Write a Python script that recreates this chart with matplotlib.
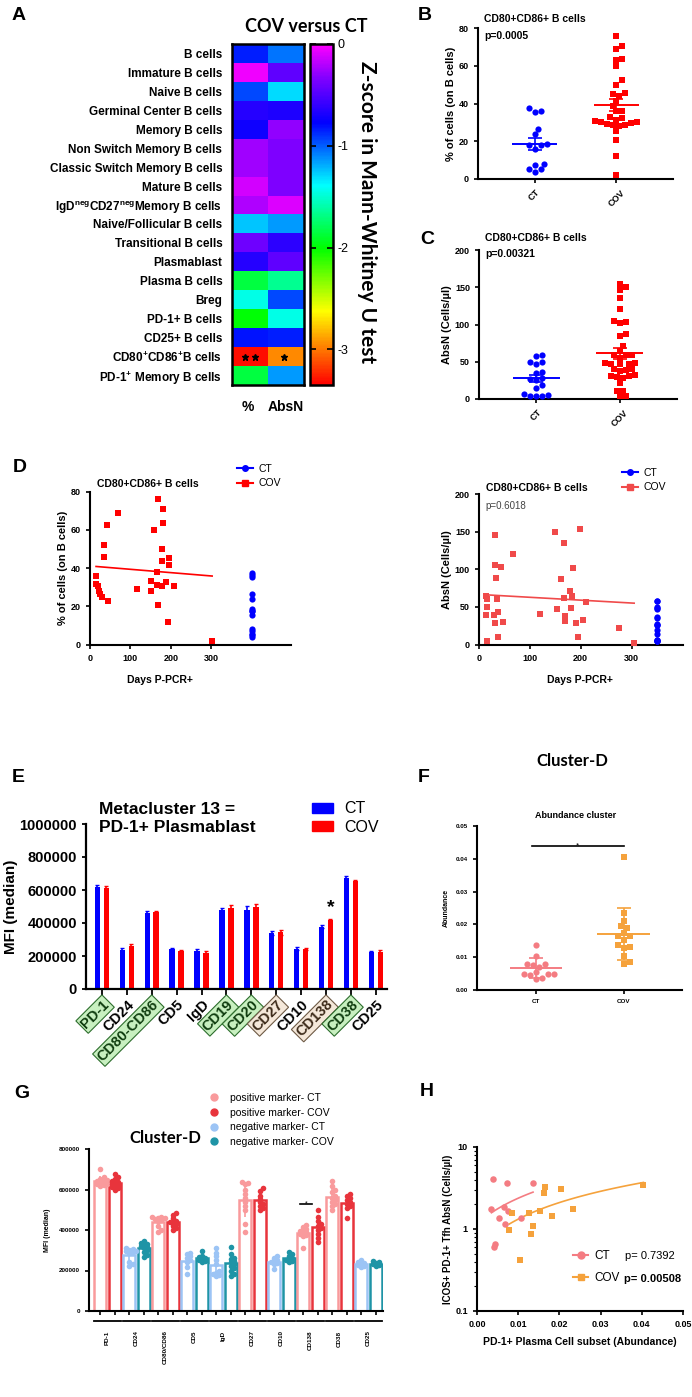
import numpy as np
import matplotlib
matplotlib.use('Agg')
import matplotlib.pyplot as plt
from matplotlib.colors import LinearSegmentedColormap
from matplotlib.lines import Line2D
from matplotlib.patches import Patch

plt.rcParams['font.family'] = ['Liberation Sans', 'DejaVu Sans']
plt.rcParams['mathtext.default'] = 'regular'

# ---------------- data ----------------
# A: z-scores (%, AbsN)
heat_rows = ['B cells', 'Immature B cells', 'Naive B cells', 'Germinal Center B cells',
             'Memory B cells', 'Non Switch Memory B cells', 'Classic Switch Memory B cells',
             'Mature B cells', 'IgD$^{neg}$CD27$^{neg}$Memory B cells', 'Naive/Follicular B cells',
             'Transitional B cells', 'Plasmablast', 'Plasma B cells', 'Breg', 'PD-1+ B cells',
             'CD25+ B cells', 'CD80$^{+}$CD86$^{+}$B cells', 'PD-1$^{+}$ Memory B cells']
z_pct = [-0.85, -0.05, -0.95, -0.65, -0.72, -0.25, -0.25, -0.12, -0.22, -1.25,
         -0.4, -0.65, -1.85, -1.45, -2.0, -0.82, -3.3, -1.85]
z_absn = [-1.05, -0.45, -1.3, -0.68, -0.3, -0.35, -0.35, -0.35, -0.1, -1.15,
          -0.62, -0.45, -1.65, -0.95, -1.45, -0.85, -2.95, -1.15]

# B: % of B cells
ct_pct = [37.6, 36.2, 35.3, 26.7, 24.0, 18.7, 17.8, 17.8, 15.7, 8.1, 7.2, 5.5, 5.1, 3.7]
cov_pct = [75.9, 70.6, 68.9, 63.6, 62.9, 59.7, 52.3, 50.0, 45.6, 45.2, 43.8, 41.1, 38.5, 36.2,
           35.9, 32.8, 32.3, 31.4, 30.5, 30.2, 30.0, 29.7, 29.0, 28.8, 28.4, 27.9, 25.3,
           20.8, 12.0, 1.9]

# C: AbsN
ct_abs = [57.5, 58.4, 49.1, 47.3, 50.0, 35.4, 36.7, 27.9, 26.5, 26.1, 19.0, 14.2,
          6.6, 4.4, 4.4, 4.4, 5.8]
cov_abs = [154, 150, 146, 136, 121, 105, 101.6, 103, 87, 85, 70.8, 64, 59.7, 59.7, 59.7,
           55.3, 48.7, 46.5, 46.5, 46.5, 47.8, 38.9, 37.6, 39.8, 39.8, 31.9, 30.1, 28.8,
           31, 31, 22.1, 10.2, 10.2, 3.5, 3.5]

# D left: days vs %
dl_days = [167, 180, 180, 158, 69, 41, 34, 34, 166, 177, 178, 196, 195, 16, 15, 21, 23,
           25, 29, 45, 167, 192, 302, 117, 151, 150, 166, 178, 188, 207]
dl_pct = [76, 70.7, 63.7, 59.8, 69, 62.8, 52.3, 45.6, 38.2, 50, 43.9, 45.3, 41.4, 36,
          31.6, 30.4, 28, 26.3, 25, 23, 20.5, 11.7, 1.9, 29.1, 28.2, 33, 30.9, 30.4, 32.6, 30.4]
ct_day = 400

# D right: days vs AbsN
dr_days = [32, 150, 199, 167, 67, 32, 43, 34, 162, 184, 16, 16, 13, 36, 37, 29, 31, 48, 37,
           15, 120, 154, 168, 170, 170, 181, 191, 194, 204, 211, 276, 305, 14, 179, 183]
dr_abs = [145, 149.3, 153.7, 135.2, 120.7, 105.7, 103, 88, 86.8, 102.2, 60, 50, 39.8, 60,
          43, 39.4, 28.2, 30, 10.6, 4.2, 40.7, 46.8, 61.6, 37.5, 31.5, 48.6, 29.2, 10.6,
          32.9, 56, 22.2, 2.3, 64, 70.5, 64.8]
ct_day_r = 350

# E: Metacluster 13 MFI
e_markers = ['PD-1', 'CD24', 'CD80-CD86', 'CD5', 'IgD', 'CD19', 'CD20', 'CD27', 'CD10',
             'CD138', 'CD38', 'CD25']
e_ct = [620000, 235000, 462000, 240000, 228000, 480000, 478000, 338000, 245000, 378000,
        675000, 222000]
e_cov = [615000, 262000, 465000, 230000, 220000, 492000, 495000, 345000, 240000, 420000,
         655000, 226000]
e_ct_err = [12000, 12000, 10000, 10000, 12000, 12000, 25000, 12000, 8000, 8000, 12000, 8000]
e_cov_err = [10000, 8000, 10000, 6000, 10000, 15000, 20000, 15000, 6000, 6000, 8000, 8000]
e_box = ['pos', None, 'pos', None, None, 'pos', 'pos', 'neu', None, 'neu', 'pos', None]

# F: abundance
f_ct = [0.0138, 0.0105, 0.008, 0.007, 0.008, 0.0077, 0.0055, 0.005, 0.005, 0.0045,
        0.005, 0.0035, 0.0037]
f_cov = [0.0404, 0.0235, 0.021, 0.0195, 0.019, 0.0175, 0.0165, 0.0165, 0.0152, 0.0138,
         0.013, 0.0127, 0.0105, 0.008, 0.0085]

# G: Cluster-D MFI per marker
g_markers = ['PD-1', 'CD24', 'CD80/CD86', 'CD5', 'IgD', 'CD27', 'CD10', 'CD138', 'CD38', 'CD25']
g_positive = [True, False, True, False, False, True, False, True, True, False]
g_ct = [
    [700e3, 660e3, 650e3, 645e3, 640e3, 635e3, 632e3, 628e3, 625e3, 620e3, 615e3],
    [310e3, 305e3, 300e3, 298e3, 295e3, 290e3, 285e3, 240e3, 220e3, 230e3],
    [465e3, 462e3, 460e3, 458e3, 455e3, 450e3, 445e3, 420e3, 400e3, 390e3],
    [285e3, 280e3, 270e3, 260e3, 250e3, 240e3, 215e3, 185e3],
    [310e3, 285e3, 270e3, 250e3, 230e3, 200e3, 190e3, 185e3, 180e3, 175e3],
    [635e3, 630e3, 625e3, 600e3, 580e3, 560e3, 540e3, 520e3, 500e3, 430e3, 390e3],
    [270e3, 260e3, 250e3, 245e3, 240e3, 235e3, 230e3, 205e3],
    [425e3, 415e3, 405e3, 400e3, 395e3, 390e3, 385e3, 380e3, 375e3, 370e3, 310e3],
    [640e3, 615e3, 600e3, 590e3, 570e3, 560e3, 550e3, 540e3, 530e3, 520e3, 500e3],
    [250e3, 240e3, 235e3, 230e3, 225e3, 220e3, 215e3],
]
g_cov = [
    [675e3, 660e3, 650e3, 640e3, 635e3, 630e3, 625e3, 620e3, 615e3, 610e3, 605e3, 600e3],
    [345e3, 335e3, 330e3, 325e3, 320e3, 315e3, 310e3, 300e3, 290e3, 275e3, 265e3],
    [485e3, 475e3, 460e3, 445e3, 440e3, 435e3, 430e3, 420e3, 410e3, 400e3],
    [295e3, 270e3, 265e3, 260e3, 255e3, 250e3, 245e3, 240e3],
    [315e3, 280e3, 260e3, 255e3, 245e3, 240e3, 230e3, 220e3, 210e3, 200e3, 185e3, 175e3],
    [605e3, 595e3, 570e3, 555e3, 540e3, 530e3, 520e3, 510e3, 500e3],
    [290e3, 280e3, 270e3, 260e3, 255e3, 250e3, 245e3, 240e3],
    [500e3, 465e3, 445e3, 430e3, 420e3, 410e3, 400e3, 380e3, 360e3, 340e3],
    [580e3, 570e3, 560e3, 550e3, 540e3, 530e3, 520e3, 510e3, 460e3],
    [245e3, 240e3, 235e3, 230e3, 225e3, 220e3],
]

# H: abundance vs Tfh AbsN
h_ct_x = [0.0039, 0.0073, 0.0136, 0.0035, 0.0065, 0.0075, 0.0054, 0.0067, 0.0106, 0.0043, 0.0042]
h_ct_y = [4.1, 3.6, 3.6, 1.75, 1.85, 1.65, 1.35, 1.15, 1.35, 0.65, 0.6]
h_cov_x = [0.0404, 0.0166, 0.0163, 0.0203, 0.0234, 0.0085, 0.0127, 0.0153, 0.0181, 0.0136,
           0.0078, 0.0132, 0.0104]
h_cov_y = [3.41, 3.29, 2.77, 3.1, 1.77, 1.56, 1.56, 1.64, 1.46, 1.09, 0.97, 0.88, 0.42]

# ---------------- helpers ----------------
W, H = 692, 1397
fig = plt.figure(figsize=(W / 100, H / 100), dpi=100)


def box(x0, y0, x1, y1):
    return [x0 / W, 1 - y1 / H, (x1 - x0) / W, (y1 - y0) / H]


def ftext(x, y, s, **kw):
    kw.setdefault('va', 'center')
    return fig.text(x / W, 1 - y / H, s, **kw)


def beeswarm(vals, sx, sy, d=6.0):
    # horizontal offsets (data units) so that markers of diameter d px do not overlap
    vals = np.asarray(vals, dtype=float)
    offs = np.zeros(len(vals))
    cands = sorted(np.arange(-16, 17) * d / 2, key=lambda c: (abs(c), c < 0))
    placed = []
    for i in np.argsort(vals):
        y = vals[i] * sy
        for c in cands:
            if all((c - px) ** 2 + (y - py) ** 2 >= 0.9 * d * d for px, py in placed):
                break
        placed.append((c, y))
        offs[i] = c / sx
    return offs


def style(ax, fs=6.5, lw=1.5):
    for s in ['top', 'right']:
        ax.spines[s].set_visible(False)
    for s in ['left', 'bottom']:
        ax.spines[s].set_linewidth(lw)
    ax.tick_params(width=lw * 0.8, length=3, labelsize=fs)
    for lab in ax.get_xticklabels() + ax.get_yticklabels():
        lab.set_fontweight('bold')


def dotplot(ax, groups, colors, markers, sx, sy, err='sem', half=0.28):
    for i, (vals, c, m) in enumerate(zip(groups, colors, markers)):
        vals = np.asarray(vals, dtype=float)
        ax.scatter(i + beeswarm(vals, sx, sy), vals, marker=m, s=20, color=c,
                   zorder=3, linewidths=0)
        mu = vals.mean()
        sd = vals.std(ddof=1)
        e = sd / np.sqrt(len(vals)) if err == 'sem' else sd
        ax.hlines(mu, i - half, i + half, color=c, lw=1.4, zorder=4)
        ax.errorbar(i, mu, yerr=e, color=c, capsize=5, lw=1.2, capthick=1.2, zorder=4)


def place_legend(ax, handles, labels, x, y, **kw):
    kw.setdefault('frameon', False)
    ax.legend(handles=handles, labels=labels, loc='center left',
              bbox_to_anchor=(x / W, 1 - y / H), bbox_transform=fig.transFigure,
              borderpad=0, borderaxespad=0, **kw)


BLUE, RED = '#0000ff', '#ff0000'
SALMON, ORANGE = '#f47c82', '#f5a23c'

# ---------------- A ----------------
colors_rb = [(0.0, '#ff0000'), (0.11, '#ff8000'), (0.215, '#ffff00'), (0.4, '#00ff00'),
             (0.586, '#00ffff'), (0.77, '#0000ff'), (0.9, '#8000ff'), (1.0, '#ff00ff')]
cmap = LinearSegmentedColormap.from_list('zrain', colors_rb)
axa = fig.add_axes(box(232, 44, 304, 385))
z = np.column_stack([z_pct, z_absn])
im = axa.imshow(z, cmap=cmap, vmin=-3.35, vmax=0, aspect='auto', interpolation='nearest')
axa.set_xticks([])
axa.set_yticks(range(len(heat_rows)))
axa.set_yticklabels(heat_rows, fontsize=8.5, fontweight='bold')
axa.tick_params(axis='y', length=0, pad=7)
for s in axa.spines.values():
    s.set_linewidth(1.8)
row_cd80 = 16
axa.plot([-0.14, 0.14], [row_cd80, row_cd80], ls='', marker='*', color='k', ms=5)
axa.plot([0.95], [row_cd80], ls='', marker='*', color='k', ms=5)
ftext(248, 407, '%', ha='center', fontsize=10, fontweight='bold')
ftext(286, 407, 'AbsN', ha='center', fontsize=10, fontweight='bold')
ftext(306, 26, 'COV versus CT', ha='center', fontsize=13, fontweight='bold', family='Lato')

cax = fig.add_axes(box(310, 44, 333, 385))
cb = fig.colorbar(im, cax=cax)
cb.set_ticks([0, -1, -2, -3])
cb.set_ticklabels(['0', '-1', '-2', '-3'])
cb.outline.set_linewidth(1.8)
cax.tick_params(direction='in', left=True, right=True, length=4, width=1.2, labelsize=9)
ftext(367, 212, 'Z-score in Mann-Whitney U test', rotation=-90, ha='center',
      fontsize=15, fontweight='bold', family='Lato')

# ---------------- B ----------------
axb = fig.add_axes(box(478, 28, 673, 179))
dotplot(axb, [ct_pct, cov_pct], [BLUE, RED], ['o', 's'], 82, 151 / 80)
axb.set_xlim(-0.69, 1.69)
axb.set_ylim(0, 80)
axb.set_yticks([0, 20, 40, 60, 80])
axb.set_xticks([0, 1])
axb.set_xticklabels(['CT', 'COV'], rotation=45, ha='center')
axb.set_ylabel('% of cells (on B cells)', fontsize=8, fontweight='bold', labelpad=2)
style(axb)
ftext(484, 19, 'CD80+CD86+ B cells', fontsize=7.5, fontweight='bold')
ftext(484, 36, 'p=0.0005', fontsize=7.5, fontweight='bold')

# ---------------- C ----------------
axc = fig.add_axes(box(479, 250, 677, 399))
dotplot(axc, [ct_abs, cov_abs], [BLUE, RED], ['o', 's'], 83, 149 / 200)
axc.set_xlim(-0.69, 1.69)
axc.set_ylim(0, 200)
axc.set_yticks([0, 50, 100, 150, 200])
axc.set_xticks([0, 1])
axc.set_xticklabels(['CT', 'COV'], rotation=45, ha='center')
axc.set_ylabel('AbsN (Cells/µl)', fontsize=8, fontweight='bold', labelpad=2)
style(axc)
ftext(485, 238, 'CD80+CD86+ B cells', fontsize=7.5, fontweight='bold')
ftext(485, 254, 'p=0.00321', fontsize=7.5, fontweight='bold')

# ---------------- D left ----------------
axdl = fig.add_axes(box(90, 491.7, 291, 644.5))
axdl.scatter(dl_days, dl_pct, marker='s', s=20, color=RED, linewidths=0, zorder=3)
axdl.scatter(np.full(len(ct_pct), ct_day), ct_pct, marker='o', s=20, color=BLUE,
             linewidths=0, zorder=3)
k, b0 = np.polyfit(dl_days, dl_pct, 1)
xx = np.array([min(dl_days), max(dl_days)])
axdl.plot(xx, k * xx + b0, color=RED, lw=1.2)
axdl.set_xlim(0, 497)
axdl.set_ylim(0, 80)
axdl.set_xticks([0, 100, 200, 300])
axdl.set_yticks([0, 20, 40, 60, 80])
axdl.set_ylabel('% of cells (on B cells)', fontsize=8, fontweight='bold', labelpad=2)
style(axdl)
ftext(160, 680, 'Days P-PCR+', ha='center', fontsize=7.5, fontweight='bold')
ftext(97, 484, 'CD80+CD86+ B cells', fontsize=7.5, fontweight='bold')
place_legend(axdl, [Line2D([], [], color=BLUE, marker='o', ms=4, lw=1.5),
                    Line2D([], [], color=RED, marker='s', ms=4, lw=1.5)],
             ['CT', 'COV'], 237, 476, fontsize=7.5, handlelength=1.5,
             handletextpad=0.6, labelspacing=0.45)

# ---------------- D right ----------------
RED2 = '#f04a4a'
axdr = fig.add_axes(box(479, 494, 683, 644.5))
axdr.scatter(dr_days, dr_abs, marker='s', s=20, color=RED2, linewidths=0, zorder=3)
axdr.scatter(np.full(len(ct_abs), ct_day_r), ct_abs, marker='o', s=20, color=BLUE,
             linewidths=0, zorder=3)
k2, b2 = np.polyfit(dr_days, dr_abs, 1)
xx2 = np.array([min(dr_days), max(dr_days)])
axdr.plot(xx2, k2 * xx2 + b2, color=RED2, lw=1.2)
axdr.set_xlim(0, 401)
axdr.set_ylim(0, 200)
axdr.set_xticks([0, 100, 200, 300])
axdr.set_yticks([0, 50, 100, 150, 200])
axdr.set_ylabel('AbsN (Cells/µl)', fontsize=8, fontweight='bold', labelpad=2)
style(axdr)
ftext(580, 680, 'Days P-PCR+', ha='center', fontsize=7.5, fontweight='bold')
ftext(486, 488, 'CD80+CD86+ B cells', fontsize=7.5, fontweight='bold')
ftext(485, 506, 'p=0.6018', fontsize=7, color='#444444')
place_legend(axdr, [Line2D([], [], color=BLUE, marker='o', ms=4, lw=1.5),
                    Line2D([], [], color=RED2, marker='s', ms=4, lw=1.5)],
             ['CT', 'COV'], 622, 480, fontsize=7.5, handlelength=1.5,
             handletextpad=0.6, labelspacing=0.45)

# ---------------- E ----------------
axe = fig.add_axes(box(86, 824, 387, 989))
xe = np.arange(len(e_markers))
axe.bar(xe - 0.18, e_ct, 0.22, yerr=e_ct_err, color=BLUE,
        error_kw=dict(ecolor=BLUE, capsize=1.5, lw=1.2))
axe.bar(xe + 0.18, e_cov, 0.22, yerr=e_cov_err, color=RED,
        error_kw=dict(ecolor=RED, capsize=1.5, lw=1.2))
i138 = e_markers.index('CD138')
axe.text(i138 + 0.18, e_cov[i138] + e_cov_err[i138] + 15000, '*', ha='center', va='bottom',
         fontsize=14, fontweight='bold')
axe.set_xlim(-0.64, 11.45)
axe.set_ylim(0, 1000000)
yt = np.arange(0, 1000001, 200000)
axe.set_yticks(yt)
axe.set_yticklabels([str(v) for v in yt])
axe.set_xticks(xe)
axe.set_xticklabels(e_markers, rotation=45, ha='right', rotation_mode='anchor')
axe.set_ylabel('MFI (median)', fontsize=11, fontweight='bold', labelpad=1)
style(axe, fs=10.5, lw=1.6)
axe.tick_params(axis='x', length=4, pad=2)
box_styles = {'pos': ('#c8f0c0', '#2d6e2d', '#0f3d0f'), 'neu': ('#f5e8da', '#6e5a45', '#3d2b1a')}
for lab, kind in zip(axe.get_xticklabels(), e_box):
    if kind:
        fc, ec, tc = box_styles[kind]
        lab.set_bbox(dict(boxstyle='square,pad=0.12', fc=fc, ec=ec, lw=0.8))
        lab.set_color(tc)
ftext(99, 809, 'Metacluster 13 =', fontsize=12.5, fontweight='bold')
ftext(99, 827, 'PD-1+ Plasmablast', fontsize=12.5, fontweight='bold')
place_legend(axe, [Patch(color=BLUE), Patch(color=RED)], ['CT', 'COV'], 312, 818,
             fontsize=11.5, handlelength=1.3, handleheight=0.6, handletextpad=0.7,
             labelspacing=0.2)

# ---------------- F ----------------
axf = fig.add_axes(box(477, 826, 682, 990))
dotplot(axf, [f_ct, f_cov], [SALMON, ORANGE], ['o', 's'], 87, 164 / 0.05, err='sd', half=0.3)
axf.set_xlim(-0.68, 1.67)
axf.set_ylim(0, 0.05)
axf.set_yticks([0, 0.01, 0.02, 0.03, 0.04, 0.05])
axf.set_yticklabels(['0.00', '0.01', '0.02', '0.03', '0.04', '0.05'])
axf.set_xticks([0, 1])
axf.set_xticklabels(['CT', 'COV'])
axf.set_ylabel('Abundance', fontsize=5, fontweight='bold', labelpad=4)
style(axf, fs=4.5, lw=1.5)
axf.plot([-0.05, 1.0], [0.0438, 0.0438], color='k', lw=1.2)
axf.text(0.47, 0.0438, '*', ha='center', va='center', fontsize=6)
ftext(576, 816, 'Abundance cluster', ha='center', fontsize=6.5, fontweight='bold')
ftext(572, 761, 'Cluster-D', ha='center', fontsize=12, fontweight='bold', family='Lato')

# ---------------- G ----------------
axg = fig.add_axes(box(89, 1149, 383, 1311))
pos_cols = ('#f99a9c', '#e8343c')
neg_cols = ('#9cc4f5', '#1e94a6')
ticks_g = []
for g, (ct_v, cov_v, pos) in enumerate(zip(g_ct, g_cov, g_positive)):
    cols = pos_cols if pos else neg_cols
    for vals, xg, c in [(ct_v, g - 0.25, cols[0]), (cov_v, g + 0.25, cols[1])]:
        vals = np.asarray(vals)
        mu = vals.mean()
        axg.bar(xg, mu, 0.42, facecolor='white', edgecolor=c, lw=1.8, zorder=2)
        axg.errorbar(xg, mu, yerr=vals.std(ddof=1), color=c, lw=1.2, capsize=0, zorder=2)
        axg.scatter(xg + beeswarm(vals, 29, 162 / 800000, d=3.2), vals, s=16, color=c,
                    linewidths=0, zorder=3)
        ticks_g.append(xg)
i138g = g_markers.index('CD138')
axg.plot([i138g - 0.35, i138g + 0.05], [528000, 528000], color='k', lw=1.2)
axg.text(i138g - 0.15, 528000, '*', ha='center', va='center', fontsize=5)
axg.set_xlim(-0.64, 9.5)
axg.set_ylim(0, 800000)
ytg = np.arange(0, 800001, 200000)
axg.set_yticks(ytg)
axg.set_yticklabels([str(v) for v in ytg])
axg.set_xticks(ticks_g)
axg.set_xticklabels([])
axg.set_ylabel('MFI (median)', fontsize=5, fontweight='bold', labelpad=6)
style(axg, fs=4.5, lw=1.5)
tr = axg.get_xaxis_transform()
for g, name in enumerate(g_markers):
    axg.plot([g - 0.46, g + 0.46], [-0.06, -0.06], transform=tr, clip_on=False, color='k', lw=1.3)
    axg.text(g, -0.12, name, transform=tr, rotation=90, ha='center', va='top', fontsize=4.5,
             fontweight='bold')
ftext(165, 1138, 'Cluster-D', ha='center', fontsize=12, fontweight='bold', family='Lato')
axg.legend(handles=[Line2D([], [], ls='', marker='o', ms=5, color=c)
                    for c in [pos_cols[0], pos_cols[1], neg_cols[0], neg_cols[1]]],
           labels=['positive marker- CT', 'positive marker- COV',
                   'negative marker- CT', 'negative marker- COV'],
           loc='upper left', bbox_to_anchor=(209 / W, 1 - 1093 / H),
           bbox_transform=fig.transFigure, frameon=False, fontsize=7.5, borderpad=0,
           borderaxespad=0, handlelength=1.0, handletextpad=1.0, labelspacing=0.45)

# ---------------- H ----------------
axh = fig.add_axes(box(477, 1147, 683, 1311))
axh.set_yscale('log')
axh.scatter(h_ct_x, h_ct_y, marker='o', s=22, color=SALMON, linewidths=0, zorder=3)
axh.scatter(h_cov_x, h_cov_y, marker='s', s=22, color=ORANGE, linewidths=0, zorder=3)
for xs, ys, c in [(h_ct_x, h_ct_y, SALMON), (h_cov_x, h_cov_y, ORANGE)]:
    kk, bb = np.polyfit(xs, ys, 1)
    xl = np.linspace(min(xs), max(xs), 50)
    axh.plot(xl, kk * xl + bb, color=c, lw=1.2)
axh.set_xlim(0, 0.05)
axh.set_ylim(0.1, 10)
axh.set_xticks([0, 0.01, 0.02, 0.03, 0.04, 0.05])
axh.set_xticklabels(['0.00', '0.01', '0.02', '0.03', '0.04', '0.05'])
axh.set_yticks([0.1, 1, 10])
axh.set_yticklabels(['0.1', '1', '10'])
style(axh, fs=6.5)
axh.tick_params(which='minor', length=2, width=0.8)
axh.set_xlabel('PD-1+ Plasma Cell subset (Abundance)', fontsize=7.5, fontweight='bold',
               labelpad=6)
axh.set_ylabel('ICOS+ PD-1+ Tfh AbsN (Cells/µl)', fontsize=7, fontweight='bold', labelpad=2)
place_legend(axh, [Line2D([], [], color=SALMON, marker='o', ms=5, lw=1.5),
                   Line2D([], [], color=ORANGE, marker='s', ms=5, lw=1.5)],
             ['CT', 'COV'], 573, 1267, fontsize=8.5, handlelength=1.3,
             handletextpad=0.5, labelspacing=0.9)
ftext(625, 1256, 'p= 0.7392', fontsize=8)
ftext(624, 1279, 'p= 0.00508', fontsize=8, fontweight='bold')

# panel letters
for letter, x, y in [('A', 12, 16), ('B', 418, 15), ('C', 420, 239), ('D', 13, 467),
                     ('E', 12, 777), ('F', 418, 777), ('G', 14, 1093), ('H', 420, 1092)]:
    ftext(x, y, letter, fontsize=14, fontweight='bold')

fig.savefig('out.png', dpi=100)
